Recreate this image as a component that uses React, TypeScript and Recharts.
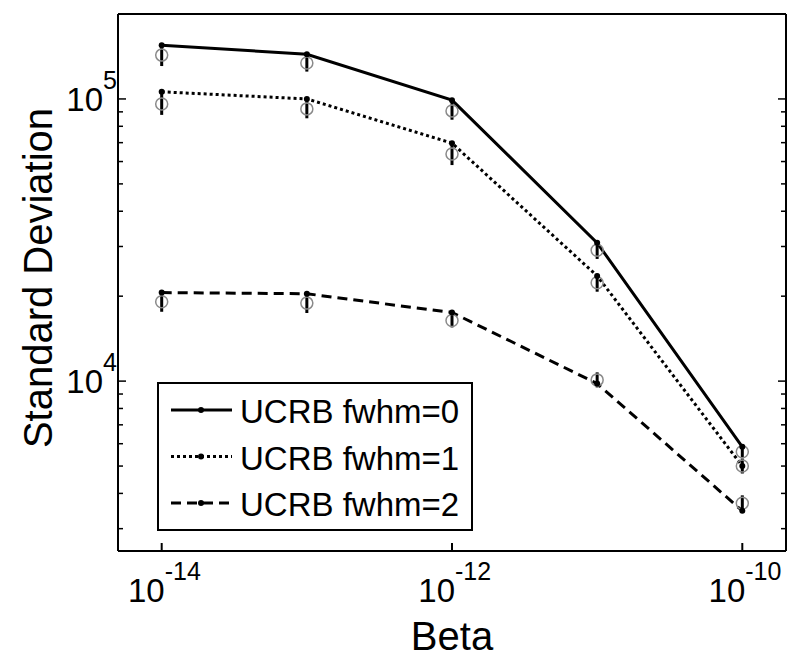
import React from "react";
import {
  ComposedChart,
  Line,
  XAxis,
  YAxis,
  ErrorBar,
  Legend,
} from "recharts";

// values (log-log)
const betas = [1e-14, 1e-13, 1e-12, 1e-11, 1e-10];
const ucrb0 = [155000, 144000, 99000, 30900, 5850];
const ucrb1 = [106000, 100000, 69700, 23600, 5000];
const ucrb2 = [20600, 20400, 17500, 9800, 3470];
// grey circles with their error bars
const circ0 = [143000, 134000, 90700, 29100, 5620];
const circ1 = [96000, 92200, 63800, 22300, 5000];
const circ2 = [19100, 18900, 16400, 10100, 3690];
const err0 = [[12200, 13400], [9000, 9600], [6300, 6900], [2000, 2200], [290, 300]];
const err1 = [[8200, 9000], [6800, 7400], [5500, 6000], [1560, 1700], [295, 315]];
const err2 = [[1490, 1620], [1470, 1610], [900, 970], [600, 640], [232, 247]];

const xTicks = [1e-14, 1e-12, 1e-10];
const yTicks = [
  3000, 4000, 5000, 6000, 7000, 8000, 9000, 10000,
  20000, 30000, 40000, 50000, 60000, 70000, 80000, 90000, 100000,
];
const legendNames = ["UCRB fwhm=0", "UCRB fwhm=1", "UCRB fwhm=2"];
const legendDash = [undefined, "3 3", "10 6"];

const rows = betas.map((b, i) => ({
  beta: b,
  l0: ucrb0[i],
  l1: ucrb1[i],
  l2: ucrb2[i],
  c0: circ0[i],
  c1: circ1[i],
  c2: circ2[i],
  e0: err0[i],
  e1: err1[i],
  e2: err2[i],
}));

const FONT = "'Liberation Sans', Arial, Helvetica, sans-serif";

function isMajor(v: number) {
  const l = Math.log10(v);
  return Math.abs(l - Math.round(l)) < 1e-6;
}

function BottomTick({ x, y, payload }: any) {
  const exp = Math.round(Math.log10(payload.value));
  return (
    <g>
      <line x1={x} y1={y} x2={x} y2={y - 8} stroke="#000" strokeWidth={2} />
      <text x={x + 3} y={y + 51} textAnchor="end" fontSize={33} fontFamily={FONT} fill="#000">
        10
      </text>
      <text x={x + 3} y={y + 29} textAnchor="start" fontSize={25} fontFamily={FONT} fill="#000">
        {exp}
      </text>
    </g>
  );
}

function TopTick({ x, y }: any) {
  return <line x1={x} y1={y} x2={x} y2={y + 8} stroke="#000" strokeWidth={2} />;
}

function LeftTick({ x, y, payload }: any) {
  const major = isMajor(payload.value);
  const exp = Math.round(Math.log10(payload.value));
  return (
    <g>
      <line x1={x} y1={y} x2={x + (major ? 8 : 5)} y2={y} stroke="#000" strokeWidth={1.5} />
      {major && (
        <>
          <text x={x - 15} y={y + 12} textAnchor="end" fontSize={33} fontFamily={FONT} fill="#000">
            10
          </text>
          <text x={x - 15} y={y - 10} textAnchor="start" fontSize={25} fontFamily={FONT} fill="#000">
            {exp}
          </text>
        </>
      )}
    </g>
  );
}

function RightTick({ x, y, payload }: any) {
  const major = isMajor(payload.value);
  return <line x1={x} y1={y} x2={x - (major ? 8 : 5)} y2={y} stroke="#000" strokeWidth={1.5} />;
}

function LegendBox() {
  return (
    <svg width={316} height={149} style={{ display: "block" }}>
      <rect x={1} y={1} width={314} height={147} fill="#fff" stroke="#000" strokeWidth={2} />
      {legendNames.map((name, i) => {
        const ly = 28 + i * 46.5;
        return (
          <g key={name}>
            <line x1={14} y1={ly} x2={75} y2={ly} stroke="#000" strokeWidth={3} strokeDasharray={legendDash[i]} />
            <circle cx={44} cy={ly} r={3} fill="#000" />
            <text x={83} y={ly + 13} fontSize={33} fontFamily={FONT} fill="#000">
              {name}
            </text>
          </g>
        );
      })}
    </svg>
  );
}

const circleDot = { r: 6, fill: "none", stroke: "#8a8a8a", strokeWidth: 1.5 };
const lineDot = { r: 3, fill: "#000", stroke: "none" };

export default function App() {
  return (
    <div style={{ position: "absolute", left: 0, top: 0, background: "#fff" }}>
      <ComposedChart
        width={800}
        height={664}
        data={rows}
        margin={{ top: 0, right: 0, bottom: 0, left: 0 }}
        style={{ fontFamily: FONT }}
      >
        <XAxis
          dataKey="beta"
          type="number"
          scale="log"
          domain={[5e-15, 2e-10]}
          allowDataOverflow
          ticks={xTicks}
          interval={0}
          height={113}
          tickSize={0}
          tickMargin={0}
          tickLine={false}
          axisLine={{ stroke: "#000", strokeWidth: 2 }}
          tick={<BottomTick />}
          label={{
            content: ({ viewBox }: any) => (
              <text
                x={viewBox.x + viewBox.width / 2}
                y={viewBox.y + 99}
                textAnchor="middle"
                fontSize={40}
                fontFamily={FONT}
                fill="#000"
              >
                Beta
              </text>
            ),
          }}
        />
        <XAxis
          xAxisId="t"
          orientation="top"
          type="number"
          scale="log"
          domain={[5e-15, 2e-10]}
          allowDataOverflow
          ticks={xTicks}
          interval={0}
          height={14}
          tickSize={0}
          tickMargin={0}
          tickLine={false}
          axisLine={{ stroke: "#000", strokeWidth: 2 }}
          tick={<TopTick />}
        />
        <YAxis
          type="number"
          scale="log"
          domain={[2500, 200000]}
          allowDataOverflow
          ticks={yTicks}
          interval={0}
          width={118}
          tickSize={0}
          tickMargin={0}
          tickLine={false}
          axisLine={{ stroke: "#000", strokeWidth: 2 }}
          tick={<LeftTick />}
          label={{
            content: () => (
              <text
                x={52}
                y={278}
                transform="rotate(-90, 52, 278)"
                textAnchor="middle"
                fontSize={40}
                fontFamily={FONT}
                fill="#000"
              >
                Standard Deviation
              </text>
            ),
          }}
        />
        <YAxis
          yAxisId="r"
          orientation="right"
          type="number"
          scale="log"
          domain={[2500, 200000]}
          allowDataOverflow
          ticks={yTicks}
          interval={0}
          width={14}
          tickSize={0}
          tickMargin={0}
          tickLine={false}
          axisLine={{ stroke: "#000", strokeWidth: 2 }}
          tick={<RightTick />}
        />

        {/* grey circles */}
        <Line dataKey="c0" stroke="none" dot={circleDot} activeDot={false} legendType="none" isAnimationActive={false} />
        <Line dataKey="c1" stroke="none" dot={circleDot} activeDot={false} legendType="none" isAnimationActive={false} />
        <Line dataKey="c2" stroke="none" dot={circleDot} activeDot={false} legendType="none" isAnimationActive={false} />

        {/* error bars on the circles */}
        <Line dataKey="c0" stroke="none" dot={false} activeDot={false} legendType="none" isAnimationActive={false}>
          <ErrorBar dataKey="e0" direction="y" width={0} stroke="#000" strokeWidth={3} isAnimationActive={false} />
        </Line>
        <Line dataKey="c1" stroke="none" dot={false} activeDot={false} legendType="none" isAnimationActive={false}>
          <ErrorBar dataKey="e1" direction="y" width={0} stroke="#000" strokeWidth={3} isAnimationActive={false} />
        </Line>
        <Line dataKey="c2" stroke="none" dot={false} activeDot={false} legendType="none" isAnimationActive={false}>
          <ErrorBar dataKey="e2" direction="y" width={0} stroke="#000" strokeWidth={3} isAnimationActive={false} />
        </Line>

        {/* UCRB curves */}
        <Line dataKey="l0" name={legendNames[0]} type="linear" stroke="#000" strokeWidth={3} dot={lineDot} activeDot={false} isAnimationActive={false} />
        <Line dataKey="l1" name={legendNames[1]} type="linear" stroke="#000" strokeWidth={3} strokeDasharray="3 3" dot={lineDot} activeDot={false} isAnimationActive={false} />
        <Line dataKey="l2" name={legendNames[2]} type="linear" stroke="#000" strokeWidth={3} strokeDasharray="10 6" dot={lineDot} activeDot={false} isAnimationActive={false} />

        <Legend
          layout="vertical"
          align="center"
          verticalAlign="middle"
          content={() => <LegendBox />}
          wrapperStyle={{ left: 157, top: 382, width: 316, height: 149 }}
        />
      </ComposedChart>
    </div>
  );
}
